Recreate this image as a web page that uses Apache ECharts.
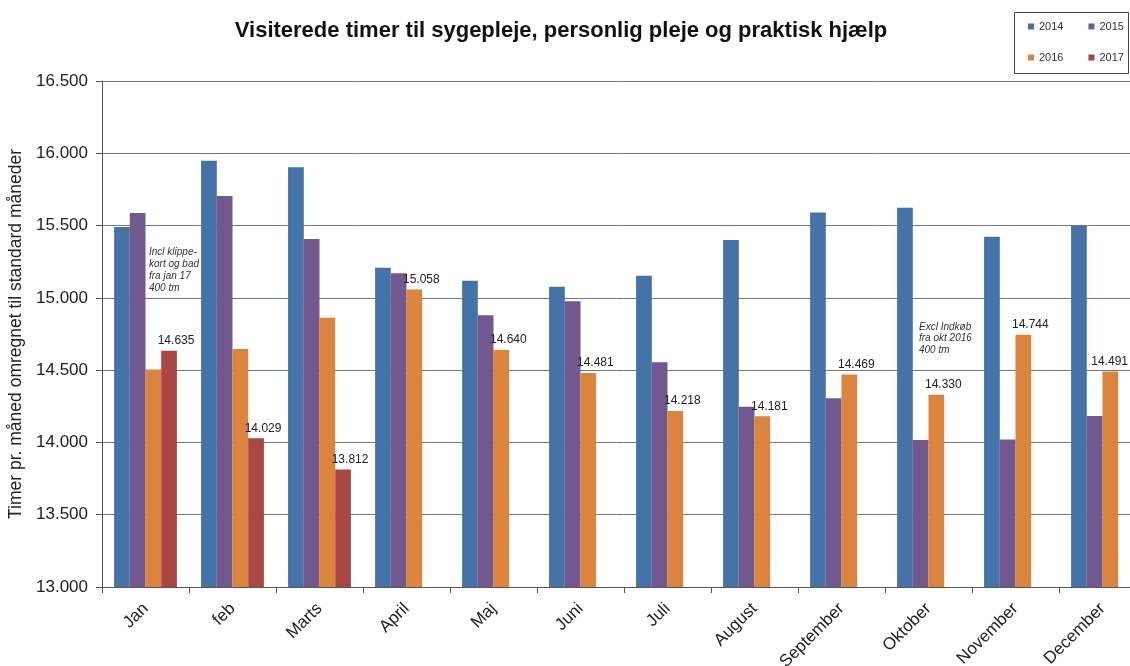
<!DOCTYPE html>
<html>
<head>
<meta charset="utf-8">
<script src="https://cdn.jsdelivr.net/npm/echarts@6/dist/echarts.min.js"></script>
<style>
  html, body { margin: 0; padding: 0; background: #fff; }
  #chart { width: 1130px; height: 666px; }
</style>
</head>
<body>
<div id="chart"></div>
<script>
// data
var months = ["Jan", "feb", "Marts", "April", "Maj", "Juni", "Juli", "August", "September", "Oktober", "November", "December"];
var years = ["2014", "2015", "2016", "2017"];
var v2014 = [15490, 15948, 15903, 15208, 15118, 15077, 15153, 15400, 15591, 15623, 15423, 15499];
var v2015 = [15587, 15704, 15407, 15170, 14879, 14976, 14554, 14247, 14305, 14017, 14021, 14183];
var v2016 = [14505, 14646, 14862, 15058, 14640, 14481, 14218, 14181, 14469, 14330, 14744, 14491];
var v2017 = [14635, 14029, 13812, null, null, null, null, null, null, null, null, null];
var yMin = 13000, yMax = 16500, yStep = 500;
var first2016Label = 3; // 2016 values only labelled from April

var colors = ["#4572A7", "#71588F", "#DB843D", "#AA4643"];
var font = "Liberation Sans, Arial, sans-serif";
var labelShift = 7;

function fmt(v) {
  return String(v).replace(/\B(?=(\d{3})+(?!\d))/g, ".");
}

var chart = echarts.init(document.getElementById("chart"));

var labelStyle = {
  show: true,
  position: "top",
  distance: 4,
  color: "#222",
  fontSize: 12,
  fontFamily: font,
  formatter: function (p) { return fmt(p.value); }
};

function barSeries(name, values, color, labelFrom) {
  return {
    name: name,
    type: "bar",
    barWidth: 15.7,
    barGap: "0%",
    itemStyle: { color: color },
    // nudge value labels right, but keep them inside the picture
    labelLayout: function (p) {
      var r = p.labelRect;
      var maxX = chart.getWidth() - 2;
      var dx = labelShift;
      if (r && r.x + r.width + dx > maxX) dx = maxX - r.x - r.width;
      return { dx: dx };
    },
    data: values.map(function (v, i) {
      if (labelFrom === undefined || i < labelFrom) return v;
      return { value: v, label: labelStyle };
    })
  };
}

function legendRow(names, top) {
  return {
    data: names,
    left: 1028,
    top: top,
    padding: 0,
    itemWidth: 6,
    itemHeight: 6,
    itemGap: 25,
    icon: "rect",
    textStyle: { fontSize: 11, color: "#333", fontFamily: font }
  };
}

var option = {
  backgroundColor: "#fff",
  color: colors,
  animation: false,
  title: {
    text: "Visiterede timer til sygepleje, personlig pleje og praktisk hjælp",
    left: 556,
    textAlign: "center",
    top: 15,
    textStyle: {
      fontSize: 22,
      fontWeight: "bold",
      color: "#111",
      fontFamily: font
    }
  },
  legend: [
    legendRow(years.slice(0, 2), 21),
    legendRow(years.slice(2, 4), 52)
  ],
  grid: {
    left: 102,
    top: 81,
    width: 1044,
    height: 506,
    outerBoundsMode: "none"
  },
  xAxis: {
    type: "category",
    data: months,
    axisLine: { lineStyle: { color: "#555" } },
    axisTick: { show: true, length: 6, lineStyle: { color: "#555" } },
    axisLabel: {
      rotate: 45,
      margin: 19,
      color: "#222",
      fontSize: 17,
      fontFamily: font
    }
  },
  yAxis: {
    type: "value",
    min: yMin,
    max: yMax,
    interval: yStep,
    name: "Timer pr. måned omregnet til standard måneder",
    nameLocation: "middle",
    nameGap: 73,
    nameTextStyle: {
      fontSize: 17.5,
      color: "#222",
      fontFamily: font
    },
    axisLine: { show: true, lineStyle: { color: "#555" } },
    axisTick: { show: true, length: 6, lineStyle: { color: "#555" } },
    axisLabel: {
      margin: 14,
      color: "#222",
      fontSize: 17,
      fontFamily: font,
      formatter: function (v) { return fmt(v); }
    },
    splitLine: { lineStyle: { color: "#777", width: 1 } }
  },
  graphic: [
    {
      type: "rect",
      shape: { x: 1014.5, y: 12.5, width: 114, height: 61 },
      style: { fill: "none", stroke: "#444", lineWidth: 1 }
    },
    {
      type: "text",
      left: 149,
      top: 246,
      style: {
        text: "Incl klippe-\nkort og bad\nfra jan 17\n400 tm",
        fontSize: 10,
        fontStyle: "italic",
        lineHeight: 12,
        fill: "#333",
        fontFamily: font
      }
    },
    {
      type: "text",
      left: 919,
      top: 321,
      style: {
        text: "Excl Indkøb\nfra okt 2016\n400 tm",
        fontSize: 10,
        fontStyle: "italic",
        lineHeight: 11.5,
        fill: "#333",
        fontFamily: font
      }
    }
  ],
  series: [
    barSeries(years[0], v2014, colors[0]),
    barSeries(years[1], v2015, colors[1]),
    barSeries(years[2], v2016, colors[2], first2016Label),
    barSeries(years[3], v2017, colors[3], 0)
  ]
};

chart.setOption(option);
</script>
</body>
</html>
